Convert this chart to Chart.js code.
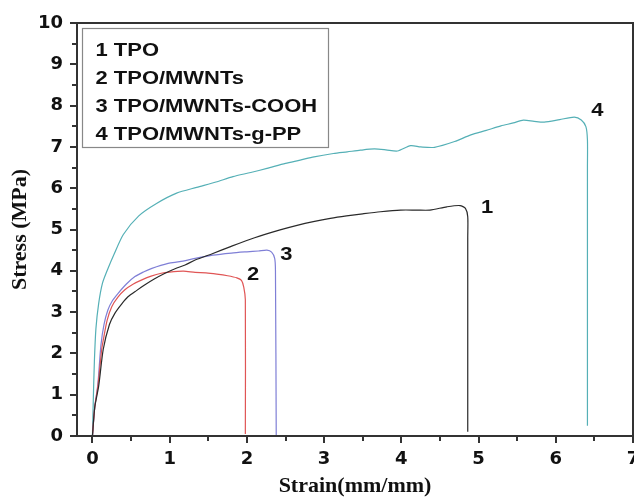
<!DOCTYPE html>
<html>
<head>
<meta charset="utf-8">
<script src="https://cdn.jsdelivr.net/npm/chart.js@4.4.1/dist/chart.umd.min.js"></script>
<style>
  html, body { margin: 0; padding: 0; background: #fff; }
  #wrap { width: 634px; height: 500px; position: relative; }
</style>
</head>
<body>
<div id="wrap"><canvas id="c" width="634" height="500"></canvas></div>
<script>
// ---- data (strain mm/mm, stress MPa) ----
const xTicks = [0, 1, 2, 3, 4, 5, 6, 7];
const yTicks = [0, 1, 2, 3, 4, 5, 6, 7, 8, 9, 10];
const seriesNames = ['1 TPO', '2 TPO/MWNTs', '3 TPO/MWNTs-COOH', '4 TPO/MWNTs-g-PP'];

const tpoStrain   = [0, 0.03, 0.08, 0.14, 0.22, 0.29, 0.38, 0.46, 0.57, 0.68, 0.8, 0.94, 1.07, 1.2, 1.33, 1.56, 1.78, 2.1, 2.43, 2.65, 2.86, 3.08, 3.29, 3.5, 3.73, 3.99, 4.2, 4.37, 4.59, 4.76, 4.83, 4.86, 4.86, 4.86];
const tpoStress   = [0, 0.7, 1.2, 2.1, 2.7, 2.97, 3.2, 3.37, 3.52, 3.66, 3.8, 3.94, 4.05, 4.14, 4.26, 4.42, 4.58, 4.8, 4.99, 5.1, 5.19, 5.27, 5.33, 5.38, 5.43, 5.47, 5.47, 5.47, 5.55, 5.58, 5.51, 5.31, 4.8, 0.1];

const mwStrain    = [0, 0.03, 0.07, 0.12, 0.14, 0.19, 0.25, 0.33, 0.42, 0.53, 0.64, 0.76, 0.89, 1.0, 1.18, 1.33, 1.47, 1.61, 1.75, 1.87, 1.93, 1.96, 1.98, 1.98];
const mwStress    = [0, 0.7, 1.2, 2.1, 2.32, 2.8, 3.13, 3.36, 3.54, 3.68, 3.78, 3.87, 3.94, 3.97, 3.99, 3.96, 3.95, 3.92, 3.88, 3.83, 3.77, 3.6, 3.3, 0.05];

const coohStrain  = [0, 0.03, 0.07, 0.11, 0.15, 0.2, 0.26, 0.33, 0.44, 0.55, 0.66, 0.77, 0.98, 1.13, 1.33, 1.56, 1.8, 2.0, 2.15, 2.26, 2.32, 2.36, 2.37, 2.38];
const coohStress  = [0, 0.7, 1.25, 2.2, 2.7, 3.05, 3.28, 3.45, 3.68, 3.86, 3.97, 4.06, 4.18, 4.22, 4.3, 4.38, 4.43, 4.46, 4.48, 4.5, 4.45, 4.3, 4.0, 0.02];

const gppStrain   = [0, 0.01, 0.025, 0.045, 0.08, 0.13, 0.2, 0.28, 0.4, 0.6, 0.83, 1.09, 1.35, 1.6, 1.82, 2.05, 2.26, 2.5, 2.69, 2.87, 3.12, 3.3, 3.47, 3.65, 3.8, 3.95, 4.12, 4.25, 4.43, 4.69, 4.9, 5.1, 5.29, 5.45, 5.58, 5.72, 5.85, 6.05, 6.24, 6.33, 6.39, 6.41, 6.41, 6.41];
const gppStress   = [0, 0.8, 1.8, 2.6, 3.2, 3.7, 4.05, 4.4, 4.88, 5.33, 5.63, 5.88, 6.02, 6.15, 6.28, 6.38, 6.48, 6.6, 6.68, 6.76, 6.84, 6.88, 6.92, 6.95, 6.93, 6.9, 7.03, 7.0, 6.99, 7.13, 7.29, 7.4, 7.51, 7.58, 7.65, 7.62, 7.6, 7.66, 7.72, 7.65, 7.49, 7.17, 6.5, 0.25];

const curveLabelText = ['1', '2', '3', '4'];
const curveLabelX = [5.11, 2.08, 2.51, 6.54];
const curveLabelY = [5.52, 3.9, 4.38, 7.88];

const lineColors = ['#2a2a2a', '#e05555', '#7f7fd6', '#55b0b6'];

// ---- build datasets ----
function pts(xs, ys) { return xs.map((x, i) => ({ x: x, y: ys[i] })); }
const allX = [tpoStrain, mwStrain, coohStrain, gppStrain];
const allY = [tpoStress, mwStress, coohStress, gppStress];
const datasets = seriesNames.map((name, i) => ({
  label: name,
  data: pts(allX[i], allY[i]),
  showLine: true,
  borderColor: lineColors[i],
  borderWidth: 1.2,
  pointRadius: 0,
  tension: 0.25,
  fill: false
}));

const frameAndExtras = {
  id: 'frameAndExtras',
  afterDraw(chart) {
    const ctx = chart.ctx;
    const a = chart.chartArea;
    const xs = chart.scales.x, ys = chart.scales.y;
    const L = Math.round(xs.getPixelForValue(-0.2));
    const R = Math.round(xs.getPixelForValue(7));
    const T = Math.round(ys.getPixelForValue(10));
    const B = Math.round(ys.getPixelForValue(0));
    ctx.save();
    ctx.globalAlpha = 1;
    ctx.globalCompositeOperation = 'source-over';
    // frame
    ctx.strokeStyle = '#333333';
    ctx.lineWidth = 2;
    ctx.beginPath();
    ctx.moveTo(L, T); ctx.lineTo(R, T);
    ctx.moveTo(L, B); ctx.lineTo(R, B);
    ctx.moveTo(L, T - 1); ctx.lineTo(L, B + 1);
    ctx.moveTo(R, T - 1); ctx.lineTo(R, B + 1);
    // ticks (major + minor, outward)
    for (let v = 0; v <= 7.001; v += 0.5) {
      const px = Math.round(xs.getPixelForValue(v));
      const len = Math.abs(v - Math.round(v)) < 1e-6 ? 7 : 5;
      ctx.moveTo(px, B); ctx.lineTo(px, B + len);
    }
    for (let v = 0; v <= 10.001; v += 0.5) {
      const py = Math.round(ys.getPixelForValue(v));
      const len = Math.abs(v - Math.round(v)) < 1e-6 ? 7 : 5;
      ctx.moveTo(L, py); ctx.lineTo(L - len, py);
    }
    ctx.stroke();
    // legend box
    const lx = L + 5, ly = T + 5;
    ctx.strokeStyle = '#888';
    ctx.lineWidth = 1.2;
    ctx.strokeRect(lx + 0.5, ly + 0.5, 246, 119);
    ctx.fillStyle = '#111';
    ctx.font = 'bold 18px "Liberation Sans", Arial, sans-serif';
    ctx.textBaseline = 'alphabetic';
    ctx.textAlign = 'left';
    seriesNames.forEach((t, i) => {
      ctx.save();
      ctx.translate(lx + 13.5, ly + 27.5 + i * 28);
      ctx.scale(1.22, 1);
      ctx.fillText(t, 0, 0);
      ctx.restore();
    });
    // curve labels
    ctx.textAlign = 'center';
    ctx.textBaseline = 'middle';
    curveLabelText.forEach((t, i) => {
      ctx.save();
      ctx.translate(xs.getPixelForValue(curveLabelX[i]), ys.getPixelForValue(curveLabelY[i]));
      ctx.scale(1.22, 1);
      ctx.fillText(t, 0, 0);
      ctx.restore();
    });
    ctx.restore();
  }
};

const tickFont = { family: '"DejaVu Sans", sans-serif', size: 18, weight: 'bold' };
const titleFont = { family: '"Liberation Serif", "Times New Roman", serif', size: 22, weight: 'bold' };

new Chart(document.getElementById('c'), {
  type: 'scatter',
  data: { datasets: datasets },
  plugins: [frameAndExtras],
  options: {
    responsive: false,
    animation: false,
    layout: { padding: { top: 23, right: 1, left: 0, bottom: 0 } },
    plugins: { legend: { display: false }, tooltip: { enabled: false } },
    scales: {
      x: {
        type: 'linear',
        min: -0.2, max: 7,
        grid: { display: false, drawTicks: false },
        border: { display: false },
        ticks: { font: tickFont, color: '#111', padding: 13, maxRotation: 0 },
        afterBuildTicks: s => { s.ticks = xTicks.map(v => ({ value: v })); },
        afterFit: s => { s.height = 64; s.paddingLeft = 0; s.paddingRight = 0; },
        title: { display: true, text: 'Strain(mm/mm)', font: titleFont, color: '#111', padding: 0 }
      },
      y: {
        type: 'linear',
        min: 0, max: 10,
        grid: { display: false, drawTicks: false },
        border: { display: false },
        ticks: { font: tickFont, color: '#111', padding: 14 },
        afterBuildTicks: s => { s.ticks = yTicks.map(v => ({ value: v })); },
        afterFit: s => { s.width = 77; s.paddingTop = 0; s.paddingBottom = 0; },
        title: { display: true, text: 'Stress (MPa)', font: titleFont, color: '#111', padding: { top: 7, bottom: 7 } }
      }
    }
  }
});
</script>
</body>
</html>
